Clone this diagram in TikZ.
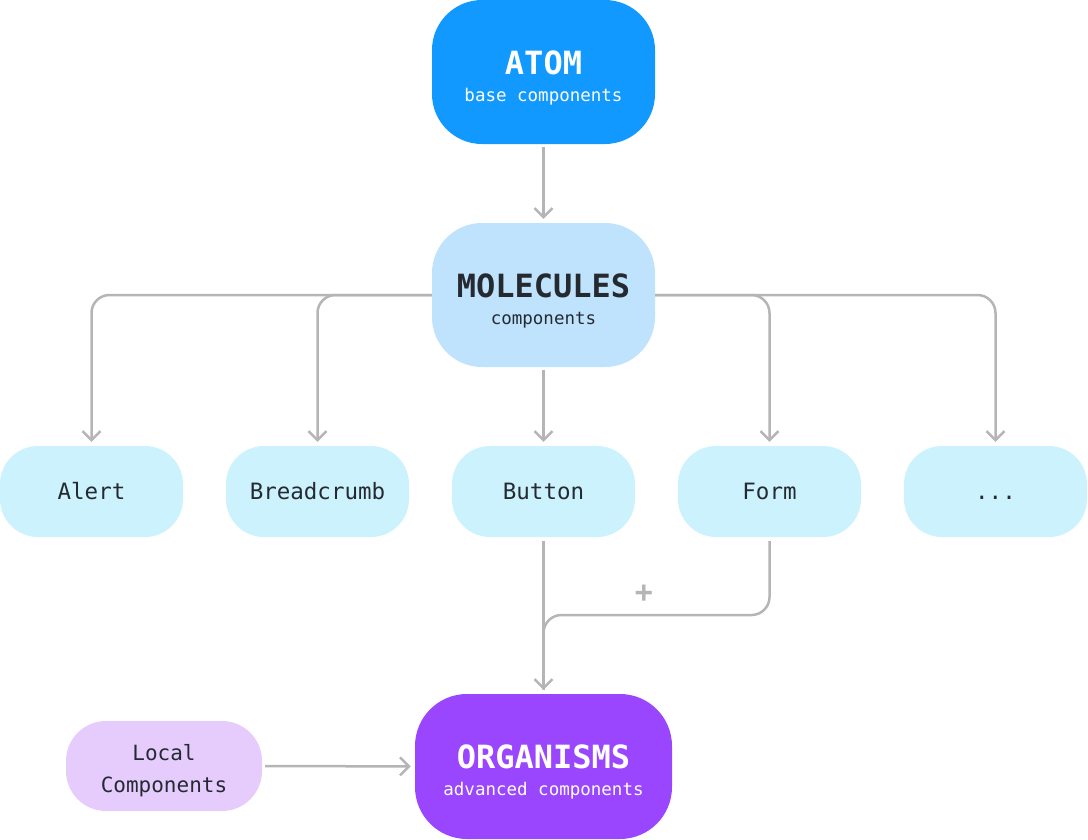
\documentclass[tikz,border=0pt]{standalone}
\usepackage{fontspec}
\setmonofont{DejaVu Sans Mono}
\usetikzlibrary{arrows.meta}
\definecolor{atomblue}{HTML}{1199FF}
\definecolor{molblue}{HTML}{BFE3FD}
\definecolor{rowcyan}{HTML}{CCF2FD}
\definecolor{orgpurple}{HTML}{9A46FF}
\definecolor{localpurple}{HTML}{E5CCFD}
\definecolor{ink}{HTML}{252A31}
\definecolor{wire}{HTML}{B5B5B5}
\def\big#1{{\fontsize{32}{27}\selectfont\bfseries #1}}

\begin{document}
\begin{tikzpicture}[x=1pt,y=1pt,
  box/.style={rounded corners=50pt,minimum width=223pt,minimum height=144pt,
    inner sep=0pt,align=center,font=\ttfamily\fontsize{17.5}{27}\selectfont,
    text height=62pt,text depth=4pt},
  item/.style={fill=rowcyan,text=ink,rounded corners=38pt,minimum width=183pt,
    minimum height=91pt,inner sep=0pt,font=\ttfamily\fontsize{22.5}{27}\selectfont,
    text height=16pt,text depth=0pt},
  link/.style={wire,line width=2.5pt,rounded corners=18pt,shorten >=4pt,
    -{Straight Barb[length=9pt,width=18pt]}}]
\useasboundingbox (0,0) rectangle (1088,-839);
\node [box,fill=atomblue,text=white] (atom) at (543.5,-72)
  {\big{ATOM}\\base components};
\node [box,fill=molblue,text=ink] (molecules) at (543.5,-295)
  {\big{MOLECULES}\\components};
\node [item] (alert) at (91.5,-491.5) {Alert};
\node [item] (breadcrumb) at (317.5,-491.5) {Breadcrumb};
\node [item] (button) at (543.5,-491.5) {Button};
\node [item] (form) at (769.5,-491.5) {Form};
\node [item] (more) at (995.5,-491.5) {...};
\node [box,fill=orgpurple,text=white,minimum width=257pt,minimum height=145pt,
  rounded corners=52pt] (organisms) at (543.5,-766.5)
  {\big{ORGANISMS}\\advanced components};
\node [fill=localpurple,text=ink,rounded corners=40pt,minimum width=196pt,
  minimum height=90pt,inner sep=0pt,align=center,
  font=\ttfamily\fontsize{21}{32}\selectfont,text height=56pt,text depth=4pt]
  (local) at (164,-766) {Local\\Components};
\coordinate (join) at (543.5,-615);
\draw [link,shorten <=3pt] (atom) -- (molecules);
\draw [link] (molecules.west) -| (alert.north);
\draw [link] (molecules.west) -| (breadcrumb.north);
\draw [link,shorten <=3pt] (molecules) -- (button);
\draw [link] (molecules.east) -| (form.north);
\draw [link] (molecules.east) -| (more.north);
\draw [link,shorten <=4pt] (button) -- (organisms);
\draw [link,-,shorten <=4pt] (form.south) |- (join) -- (organisms.north);
\draw [link,shorten <=3pt] (local) -- (organisms);
\node [wire,font=\ttfamily\bfseries\fontsize{30}{30}\selectfont] (plus) at (644,-594) {+};
\end{tikzpicture}
\end{document}
